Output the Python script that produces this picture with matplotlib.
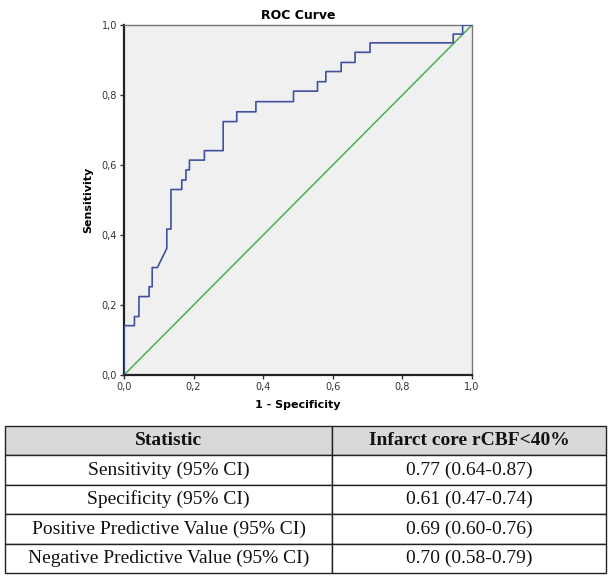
import matplotlib
matplotlib.use("Agg")
import matplotlib.pyplot as plt

# ROC curve vertices (1 - specificity, sensitivity)
fpr = [0.0, 0.0, 0.030, 0.030, 0.043, 0.043, 0.072, 0.072, 0.081, 0.081,
       0.096, 0.123, 0.123, 0.135, 0.135, 0.166, 0.166, 0.178, 0.178, 0.188,
       0.188, 0.231, 0.231, 0.285, 0.285, 0.324, 0.324, 0.379, 0.379, 0.487,
       0.487, 0.556, 0.556, 0.580, 0.580, 0.624, 0.624, 0.664, 0.664, 0.707,
       0.707, 0.946, 0.946, 0.973, 0.973, 1.0]
tpr = [0.0, 0.141, 0.141, 0.167, 0.167, 0.224, 0.224, 0.252, 0.252, 0.307,
       0.307, 0.362, 0.417, 0.417, 0.530, 0.530, 0.557, 0.557, 0.586, 0.586,
       0.614, 0.614, 0.641, 0.641, 0.724, 0.724, 0.752, 0.752, 0.781, 0.781,
       0.811, 0.811, 0.838, 0.838, 0.867, 0.867, 0.893, 0.893, 0.922, 0.922,
       0.949, 0.949, 0.974, 0.974, 1.0, 1.0]
ref_x = [0.0, 1.0]
ref_y = [0.0, 1.0]
ticks = [0.0, 0.2, 0.4, 0.6, 0.8, 1.0]
tick_labels = ["0,0", "0,2", "0,4", "0,6", "0,8", "1,0"]

col_labels = ["Statistic", "Infarct core rCBF<40%"]
stat_names = ["Sensitivity (95% CI)", "Specificity (95% CI)",
              "Positive Predictive Value (95% CI)",
              "Negative Predictive Value (95% CI)"]
stat_values = ["0.77 (0.64-0.87)", "0.61 (0.47-0.74)",
               "0.69 (0.60-0.76)", "0.70 (0.58-0.79)"]

W, H = 614, 580
fig = plt.figure(figsize=(W / 100, H / 100), dpi=100)
fig.patch.set_facecolor("white")

ax = fig.add_axes([124 / W, 1 - 375 / H, 348 / W, 350 / H])
ax.set_facecolor("#f0f0f0")
ax.plot(ref_x, ref_y, color="#4caf50", lw=1.1, zorder=2)
ax.plot(fpr, tpr, color="#41509f", lw=1.2, zorder=3)
ax.set_xlim(0, 1)
ax.set_ylim(0, 1)
ax.set_xticks(ticks)
ax.set_yticks(ticks)
ax.set_xticklabels(tick_labels, fontsize=7, color="#333333")
ax.set_yticklabels(tick_labels, fontsize=7, color="#333333")
ax.tick_params(direction="out", length=3, width=1, pad=2, color="#333333")
for s in ["left", "bottom"]:
    ax.spines[s].set_color("#222222")
    ax.spines[s].set_linewidth(1.6)
for s in ["top", "right"]:
    ax.spines[s].set_color("#777777")
    ax.spines[s].set_linewidth(1.0)
ax.set_title("ROC Curve", fontsize=9, fontweight="bold", pad=4)
ax.set_xlabel("1 - Specificity", fontsize=8, fontweight="bold", labelpad=6)
ax.set_ylabel("Sensitivity", fontsize=8, fontweight="bold", labelpad=6)

# Table
tax = fig.add_axes([5 / W, 1 - 573 / H, 601 / W, 147 / H])
tax.axis("off")
cells = [[n, v] for n, v in zip(stat_names, stat_values)]
tbl = tax.table(cellText=cells, colLabels=col_labels, loc="center",
                cellLoc="center", colWidths=[327 / 601, 274 / 601],
                bbox=[0, 0, 1, 1])
tbl.auto_set_font_size(False)
for (r, c), cell in tbl.get_celld().items():
    cell.set_edgecolor("#222222")
    cell.set_linewidth(1.0)
    t = cell.get_text()
    t.set_fontfamily("Liberation Serif")
    t.set_fontsize(14)
    t.set_color("#111111")
    if r == 0:
        cell.set_facecolor("#d9d9d9")
        t.set_fontweight("bold")
    else:
        cell.set_facecolor("white")

fig.savefig("out.png", dpi=100)
